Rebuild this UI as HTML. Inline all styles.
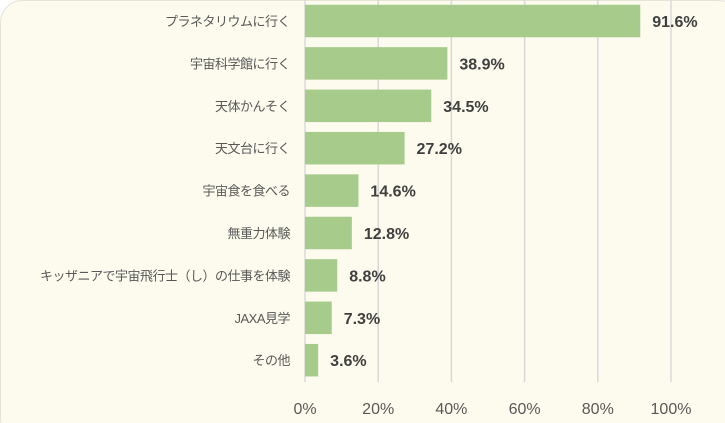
<!DOCTYPE html>
<html><head><meta charset="utf-8"><style>
html,body{margin:0;padding:0;background:#fff;}
svg{display:block;font-family:"Liberation Sans","Noto Sans CJK JP",sans-serif;}
</style></head><body>
<svg id="chart" width="725" height="423">
<rect x="0.5" y="0.5" width="740" height="440" rx="22" fill="#fcfbee" stroke="#e6e4d6"/>
<g id="grid"></g><g id="bars"></g><g id="labels"></g>
</svg>
<script>
const categories=["プラネタリウムに行く","宇宙科学館に行く","天体かんそく","天文台に行く","宇宙食を食べる","無重力体験","キッザニアで宇宙飛行士（し）の仕事を体験","JAXA見学","その他"];
const values=[91.6,38.9,34.5,27.2,14.6,12.8,8.8,7.3,3.6];
const ticks=[0,20,40,60,80,100];
const NS="http://www.w3.org/2000/svg";
const x0=305,x1=671,plotTop=0,band=42.4,barH=32.5,gridBottom=382;
const xs=v=>x0+(x1-x0)*v/100;
const yc=i=>21+band*i;
function mk(tag,attrs,parent,text){const e=document.createElementNS(NS,tag);for(const k in attrs)e.setAttribute(k,attrs[k]);if(text!==undefined)e.textContent=text;document.getElementById(parent).appendChild(e);return e;}
ticks.forEach(t=>{
 const l=mk('line',{x1:xs(t),x2:xs(t),y1:plotTop,y2:gridBottom,stroke:'#d9d9d9','stroke-width':1.5},'grid');
 
 
 const tx=mk('text',{x:xs(t),y:414,'text-anchor':'middle','font-size':16,fill:'#595959'},'grid',t+'%');
 
 
});
categories.forEach((c,i)=>{
 const b=mk('rect',{x:x0,y:yc(i)-barH/2,width:xs(values[i])-x0,height:barH,fill:'#a6cb8b'},'bars');
 
 
 const v=mk('text',{x:xs(values[i])+12,y:yc(i)+6,'font-size':16,'font-weight':'bold',fill:'#404040'},'labels',values[i].toFixed(1)+'%');
 
 
 const cl=mk('text',{x:290,y:yc(i)+5,'text-anchor':'end','font-size':13,fill:'#595959','letter-spacing':'-0.5'},'labels',c);
 
 
});
</script>
</body></html>
